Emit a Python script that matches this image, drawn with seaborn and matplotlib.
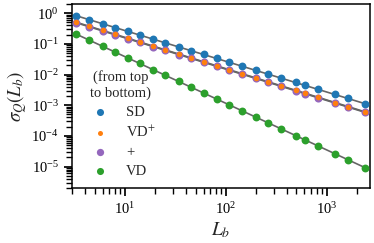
import numpy as np
import matplotlib
matplotlib.use("Agg")
import matplotlib.pyplot as plt
import seaborn as sns

# ── data ───────────────────────────────────────────────────────────────────────
L_b = [3.3, 4.4, 6.0, 8.0, 10.6, 14, 19, 25, 34, 45, 60, 81, 108, 145, 197,
       259, 348, 490, 609, 809, 1208, 1626, 2415]

sd = [0.818, 0.614, 0.45, 0.338, 0.255, 0.193, 0.142, 0.108, 0.0794, 0.060,
      0.045, 0.0333, 0.025, 0.0186, 0.0137, 0.0104, 0.00776, 0.00551,
      0.00443, 0.00334, 0.00224, 0.00166, 0.00108]

vd_plus = [0.503, 0.375, 0.273, 0.204, 0.153, 0.115, 0.0844, 0.0638, 0.0466,
           0.0350, 0.0261, 0.0192, 0.01433, 0.01061, 0.00776, 0.00587,
           0.00435, 0.00307, 0.00246, 0.00184, 0.00122, 0.000901, 0.000602]

plus = [0.485, 0.361, 0.263, 0.197, 0.147, 0.111, 0.0812, 0.0614, 0.0449,
        0.0337, 0.0251, 0.0185, 0.01380, 0.01022, 0.00747, 0.00565,
        0.00419, 0.00296, 0.00237, 0.00177, 0.00117, 0.000868, 0.000580]

vd = [0.206, 0.133, 0.0830, 0.0537, 0.0350, 0.0229, 0.0144, 0.00948, 0.00594,
      0.00388, 0.00251, 0.00159, 0.001026, 0.000656, 0.000412, 0.000272,
      0.000173, 0.000103, 7.40e-5, 4.81e-5, 2.62e-5, 1.66e-5, 9.12e-6]

labels = ["SD", r"VD$^{+}$", "+", "VD"]
series = [sd, vd_plus, plus, vd]

# ── style ──────────────────────────────────────────────────────────────────────
sns.set_theme(style="ticks")
plt.rcParams["font.family"] = ["Liberation Serif", "DejaVu Serif"]
plt.rcParams["mathtext.fontset"] = "stix"
plt.rcParams["font.size"] = 10.5
plt.rcParams["axes.edgecolor"] = "black"
plt.rcParams["axes.linewidth"] = 1.1
plt.rcParams["xtick.color"] = "black"
plt.rcParams["ytick.color"] = "black"
plt.rcParams["xtick.labelsize"] = 10.5
plt.rcParams["ytick.labelsize"] = 10.5

colors = {"SD": "#1f77b4", r"VD$^{+}$": "#ff7f0e", "+": "#9467bd", "VD": "#2ca02c"}
sizes = {"SD": 32, r"VD$^{+}$": 16, "+": 34, "VD": 32}
draw_order = ["SD", "+", r"VD$^{+}$", "VD"]

fig = plt.figure(figsize=(3.74, 2.43), dpi=100)
ax = fig.add_axes([0.193, 0.226, 0.796, 0.758])

x = np.array(L_b)
# power-law fit lines (gray), drawn under the markers
for y in series:
    p = np.polyfit(np.log10(x), np.log10(y), 1)
    xf = np.array([x[0] * 0.95, x[-1] * 1.05])
    ax.plot(xf, 10 ** np.polyval(p, np.log10(xf)), color="#666666", lw=1.2, zorder=1)

data = dict(zip(labels, series))
for lab in draw_order:
    sns.scatterplot(x=L_b, y=data[lab], ax=ax, color=colors[lab], s=sizes[lab],
                    linewidth=0, label=lab, zorder=3)

ax.set_xscale("log")
ax.set_yscale("log")
ax.set_xlim(3.0, 2670)
ax.set_ylim(2.0e-6, 2.0)
ax.set_xlabel(r"$L_b$", fontsize=14, labelpad=2)
ax.set_ylabel(r"$\sigma_Q(L_b)$", fontsize=13.5, labelpad=2)

handles, labs = ax.get_legend_handles_labels()
hmap = dict(zip(labs, handles))
leg = ax.legend([hmap[l] for l in labels], labels, title="(from top\nto bottom)",
                loc="lower left", bbox_to_anchor=(0.01, 0.0), frameon=False,
                fontsize=10.5, title_fontsize=10.5, markerscale=0.9,
                handletextpad=0.8, labelspacing=0.4, borderaxespad=0.3)
leg.get_title().set_multialignment("center")

fig.savefig("out.png", dpi=100)
